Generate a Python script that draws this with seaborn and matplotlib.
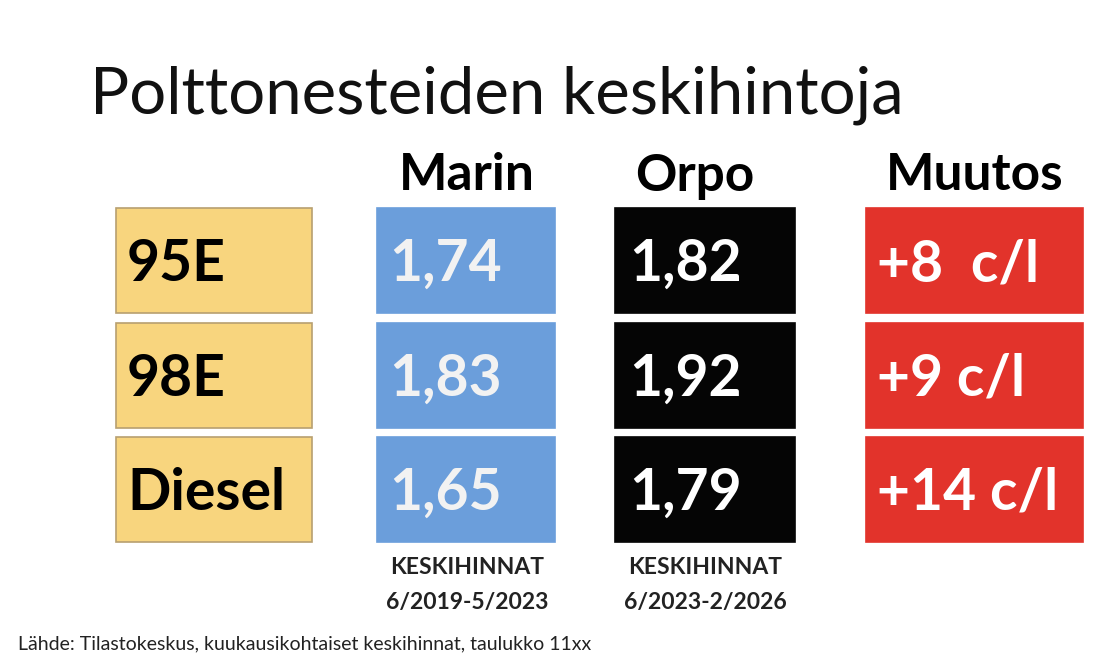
import matplotlib
matplotlib.use("Agg")
import matplotlib.pyplot as plt
import seaborn as sns

fuels = ["95E", "98E", "Diesel"]
marin = ["1,74", "1,83", "1,65"]
orpo = ["1,82", "1,92", "1,79"]
muutos = ["+8  c/l", "+9 c/l", "+14 c/l"]
headers = ["Marin", "Orpo", "Muutos"]
periods = ["6/2019-5/2023", "6/2023-2/2026"]

sns.set_theme(style="white")
plt.rcParams['font.family'] = ['Lato', 'DejaVu Sans']

fig = plt.figure(figsize=(10.99, 6.68), dpi=100)
ax = fig.add_axes([0, 0, 1, 1])
ax.set_xlim(0, 1099); ax.set_ylim(668, 0); ax.axis("off")

row_top = [208, 323, 437]
row_h = 105
cols = [  # x0, width, face, edge, textcolor, textx, labels
    (116, 196, "#F8D57E", "#B8A070", "black", 127, fuels),
    (377, 178, "#6B9EDB", "#6B9EDB", "#F2F2F2", 389, marin),
    (615, 180, "#050505", "#050505", "white", 629, orpo),
    (866, 217, "#E2332B", "#E2332B", "white", 877, muutos),
]
for x0, w, fc, ec, tc, tx, labels in cols:
    ax.bar([x0] * 3, [row_h] * 3, width=w, bottom=row_top, align="edge",
           color=fc, edgecolor=ec, linewidth=1.2)
    for i, lab in enumerate(labels):
        ax.text(tx, row_top[i] + row_h / 2 + 4, lab, color=tc, fontsize=41,
                fontweight="bold", va="center", ha="left")

ax.text(90, 95, "Polttonesteiden keskihintoja", fontsize=47, va="center", ha="left", color="#111111")
for xc, h in zip([467, 695, 975], headers):
    ax.text(xc, 176, h, fontsize=37, fontweight="bold", va="center", ha="center", color="black")
for xc, p in zip([467, 705], periods):
    ax.text(xc, 567, "KESKIHINNAT", fontsize=16.5, fontweight="bold", ha="center", va="center", color="#222222")
    ax.text(xc, 603, p, fontsize=16.5, fontweight="bold", ha="center", va="center", color="#222222")
ax.text(18, 644, "Lähde: Tilastokeskus, kuukausikohtaiset keskihinnat, taulukko 11xx",
        fontsize=14, ha="left", va="center", color="#222222")
fig.savefig("out.png", dpi=100, facecolor="white")
